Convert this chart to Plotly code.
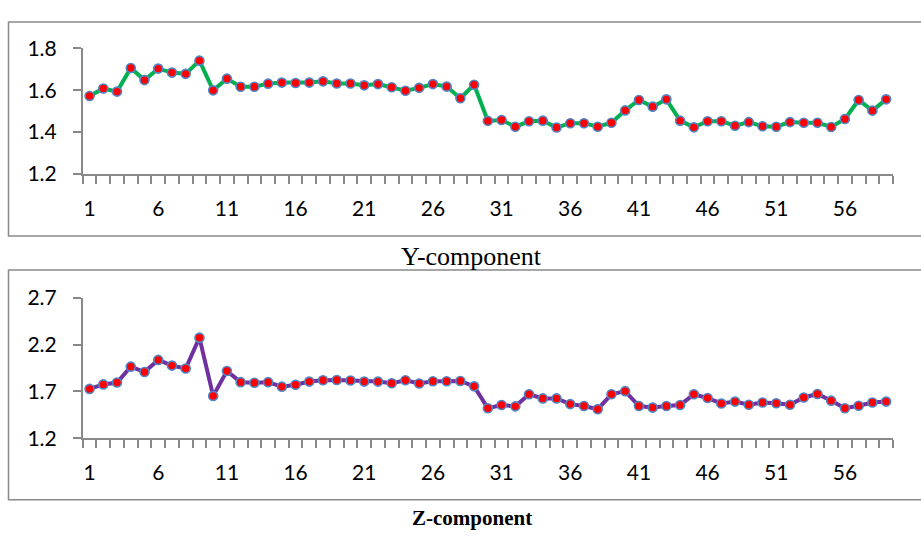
import plotly.graph_objects as go

categories = list(range(1, 60))
y_component = [1.572, 1.608, 1.593, 1.706, 1.648, 1.703, 1.684, 1.678, 1.741, 1.599,
               1.655, 1.616, 1.616, 1.631, 1.636, 1.634, 1.636, 1.642, 1.632, 1.632,
               1.623, 1.629, 1.614, 1.597, 1.611, 1.629, 1.617, 1.561, 1.626, 1.453,
               1.457, 1.425, 1.451, 1.454, 1.421, 1.442, 1.442, 1.425, 1.444, 1.503,
               1.553, 1.521, 1.556, 1.454, 1.422, 1.451, 1.451, 1.430, 1.447, 1.427,
               1.425, 1.447, 1.444, 1.444, 1.424, 1.462, 1.553, 1.502, 1.556]
z_component = [1.727, 1.775, 1.795, 1.965, 1.907, 2.037, 1.976, 1.945, 2.275, 1.652,
               1.918, 1.799, 1.792, 1.799, 1.751, 1.771, 1.805, 1.819, 1.822, 1.816,
               1.805, 1.805, 1.788, 1.819, 1.785, 1.809, 1.809, 1.812, 1.754, 1.520,
               1.554, 1.540, 1.669, 1.625, 1.625, 1.564, 1.544, 1.510, 1.669, 1.703,
               1.544, 1.527, 1.544, 1.554, 1.669, 1.629, 1.571, 1.591, 1.557, 1.581,
               1.574, 1.557, 1.635, 1.673, 1.601, 1.520, 1.547, 1.581, 1.591]
x_tick_vals = list(range(1, 60, 5))
x_tick_text = [str(v) for v in x_tick_vals]
y_ticks_top = [1.2, 1.4, 1.6, 1.8]
y_ticks_bottom = [1.2, 1.7, 2.2, 2.7]
title_top = "Y-component"
title_bottom = "Z-component"

W, H = 921, 541
GRAY = "#898989"
TICKFONT = dict(family="Lato, Carlito, sans-serif", size=21, color="#000000")

fig = go.Figure()
marker = dict(size=9, color="#ff0000", line=dict(color="#4f86c6", width=1.6))
fig.add_trace(go.Scatter(x=categories, y=y_component, mode="lines+markers",
                         line=dict(color="#00b050", width=4), marker=marker,
                         xaxis="x", yaxis="y", showlegend=False))
fig.add_trace(go.Scatter(x=categories, y=z_component, mode="lines+markers",
                         line=dict(color="#7030a0", width=4), marker=marker,
                         xaxis="x2", yaxis="y2", showlegend=False))

xdom = [82.7 / W, 893 / W]
top_dom = [1 - 167.5 / H, 1 - 36 / H]
bot_dom = [1 - 444.7 / H, 1 - 297.7 / H]
n = len(categories)

def xaxis(anchor):
    return dict(domain=xdom, anchor=anchor, range=[0.5, n + 0.5],
                tickmode="array", tickvals=x_tick_vals, ticktext=x_tick_text,
                ticks="", showgrid=False, zeroline=False,
                showline=True, linecolor=GRAY, linewidth=1.5,
                tickfont=TICKFONT, ticklabelstandoff=15,
                minor=dict(ticks="outside", ticklen=8, tickcolor=GRAY, tickwidth=1.5,
                           tick0=0.5, dtick=1, showgrid=False))

def yaxis(anchor, dom, ticks):
    return dict(domain=dom, anchor=anchor, range=[ticks[0], ticks[-1]],
                tickmode="array", tickvals=ticks, ticktext=[f"{t:.1f}" for t in ticks],
                ticks="outside", ticklen=8, tickcolor=GRAY, tickwidth=1.5,
                showgrid=False, zeroline=False, showline=True, linecolor=GRAY,
                linewidth=1.5, tickfont=TICKFONT, ticklabelstandoff=12)

fig.update_layout(
    width=W, height=H, margin=dict(l=0, r=0, t=0, b=0),
    paper_bgcolor="white", plot_bgcolor="white",
    xaxis=xaxis("y"), yaxis=yaxis("x", top_dom, y_ticks_top),
    xaxis2=xaxis("y2"), yaxis2=yaxis("x2", bot_dom, y_ticks_bottom),
    shapes=[
        dict(type="rect", xref="paper", yref="paper", x0=8.5 / W, x1=1.02,
             y0=1 - 232.7 / H, y1=1 - 8.3 / H, line=dict(color=GRAY, width=1.5)),
        dict(type="rect", xref="paper", yref="paper", x0=8.5 / W, x1=1.02,
             y0=1 - 509.3 / H, y1=1 - 268.3 / H, line=dict(color=GRAY, width=1.5)),
    ],
    annotations=[
        dict(text=title_top, xref="paper", yref="paper", x=471 / W, y=1 - 254 / H,
             xanchor="center", yanchor="middle", showarrow=False,
             font=dict(family="Liberation Serif, Times New Roman, serif", size=26, color="#000")),
        dict(text="<b>" + title_bottom + "</b>", xref="paper", yref="paper", x=472 / W,
             y=1 - 528 / H, xanchor="center", yanchor="middle", showarrow=False,
             font=dict(family="Liberation Serif, Times New Roman, serif", size=21, color="#000")),
    ],
)

fig.write_html("out.html", config={"displayModeBar": False},
               post_script="document.body.style.margin='0px';document.body.style.overflow='hidden';")
